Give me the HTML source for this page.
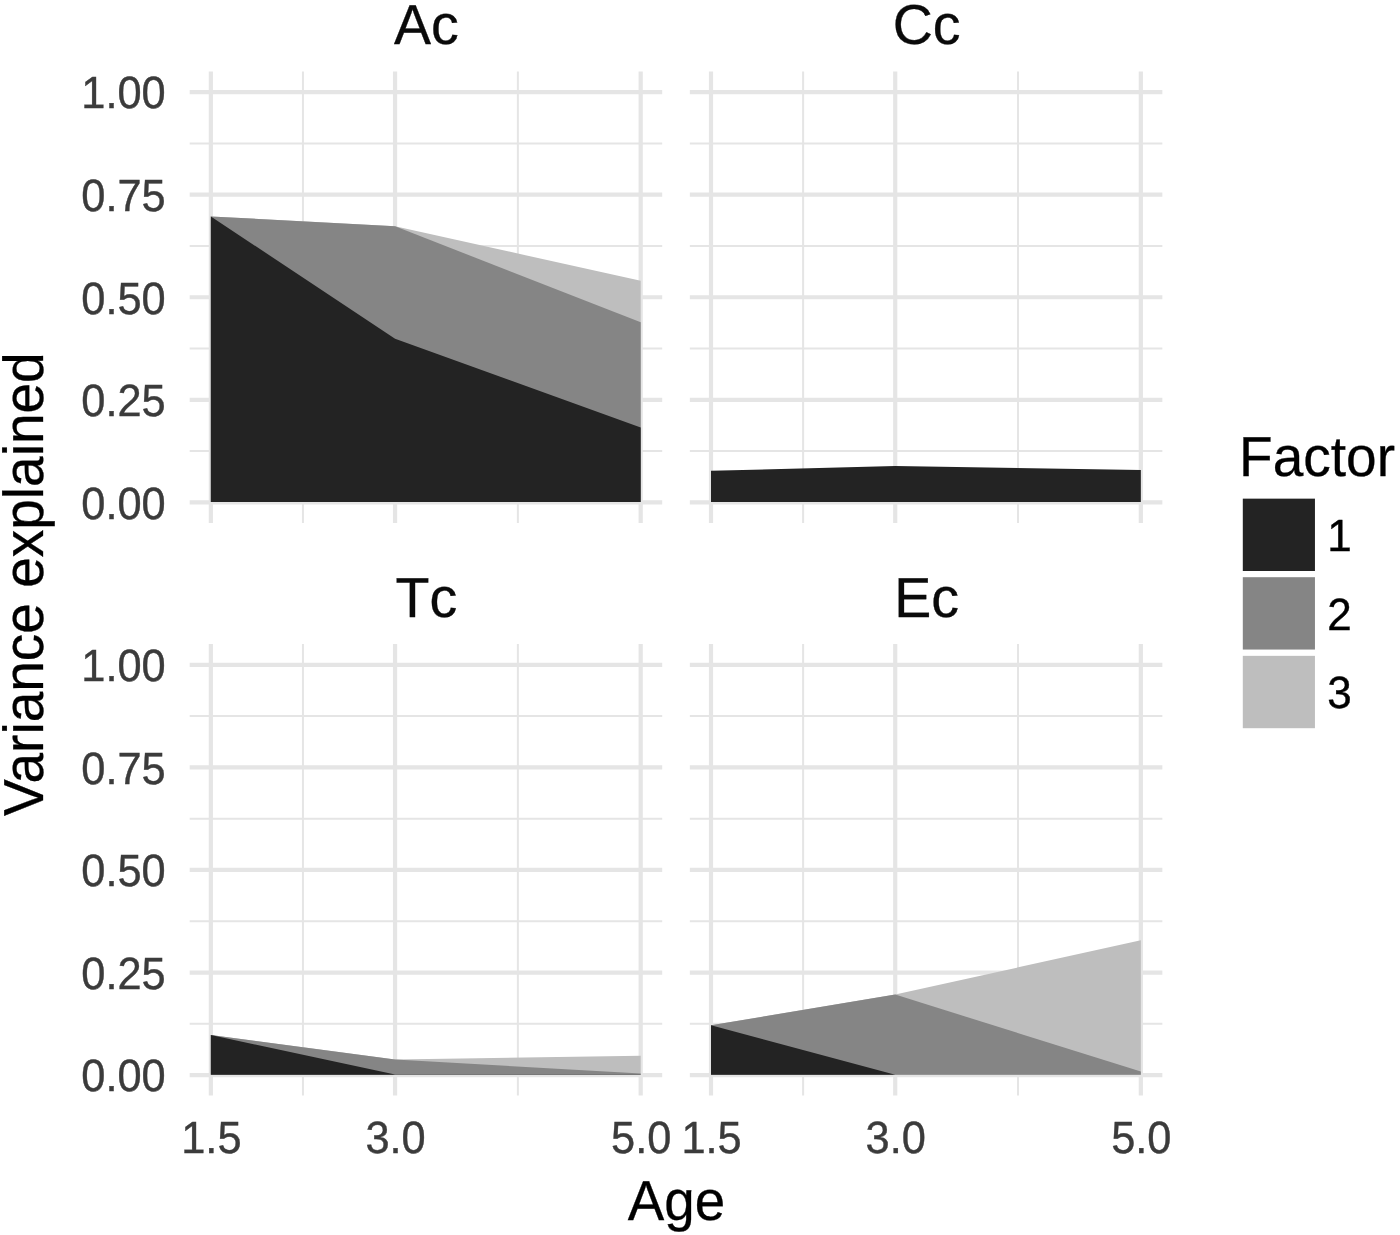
<!DOCTYPE html>
<html lang="en"><head><meta charset="utf-8"><title>Variance explained by factor and age</title>
<style>
html,body{margin:0;padding:0;background:#fff;}
body{width:1400px;height:1235px;overflow:hidden;font-family:"Liberation Sans",sans-serif;}
svg{display:block;}
text{font-kerning:none;text-rendering:geometricPrecision;}
</style></head><body>
<svg role="img" aria-label="Variance explained by factor across age for Ac, Cc, Tc and Ec" width="1400" height="1235" viewBox="0 0 1400 1235" font-family="'Liberation Sans', sans-serif">
<rect width="1400" height="1235" fill="#ffffff"/>
<g><line x1="189.70" x2="662.20" y1="451.11" y2="451.11" stroke="#e5e5e5" stroke-width="2"/><line x1="189.70" x2="662.20" y1="348.54" y2="348.54" stroke="#e5e5e5" stroke-width="2"/><line x1="189.70" x2="662.20" y1="245.96" y2="245.96" stroke="#e5e5e5" stroke-width="2"/><line x1="189.70" x2="662.20" y1="143.39" y2="143.39" stroke="#e5e5e5" stroke-width="2"/><line x1="302.96" x2="302.96" y1="71.40" y2="522.90" stroke="#e5e5e5" stroke-width="2"/><line x1="517.88" x2="517.88" y1="71.40" y2="522.90" stroke="#e5e5e5" stroke-width="2"/><line x1="189.70" x2="662.20" y1="502.40" y2="502.40" stroke="#e5e5e5" stroke-width="4.2"/><line x1="189.70" x2="662.20" y1="399.83" y2="399.83" stroke="#e5e5e5" stroke-width="4.2"/><line x1="189.70" x2="662.20" y1="297.25" y2="297.25" stroke="#e5e5e5" stroke-width="4.2"/><line x1="189.70" x2="662.20" y1="194.68" y2="194.68" stroke="#e5e5e5" stroke-width="4.2"/><line x1="189.70" x2="662.20" y1="92.10" y2="92.10" stroke="#e5e5e5" stroke-width="4.2"/><line x1="210.85" x2="210.85" y1="71.40" y2="522.90" stroke="#e5e5e5" stroke-width="4.2"/><line x1="395.06" x2="395.06" y1="71.40" y2="522.90" stroke="#e5e5e5" stroke-width="4.2"/><line x1="640.69" x2="640.69" y1="71.40" y2="522.90" stroke="#e5e5e5" stroke-width="4.2"/></g>
<polygon points="210.85,216.42 395.06,226.27 640.69,280.84 640.69,502.10 210.85,502.10" fill="#bebebe"/>
<polygon points="210.85,216.42 395.06,226.27 640.69,322.36 640.69,502.10 210.85,502.10" fill="#858585"/>
<polygon points="210.85,216.42 395.06,338.69 640.69,427.52 640.69,502.10 210.85,502.10" fill="#232323"/>
<text transform="translate(426.45,44.00) scale(1.01,1.025)" font-size="55" text-anchor="middle" fill="#0a0a0a" stroke="#0a0a0a" stroke-width="0.3">Ac</text>
<text transform="translate(165.70,519.00) scale(0.985,1.025)" font-size="44" text-anchor="end" fill="#3b3b3b" stroke="#3b3b3b" stroke-width="0.4">0.00</text>
<text transform="translate(165.70,416.00) scale(0.985,1.025)" font-size="44" text-anchor="end" fill="#3b3b3b" stroke="#3b3b3b" stroke-width="0.4">0.25</text>
<text transform="translate(165.70,314.00) scale(0.985,1.025)" font-size="44" text-anchor="end" fill="#3b3b3b" stroke="#3b3b3b" stroke-width="0.4">0.50</text>
<text transform="translate(165.70,211.00) scale(0.985,1.025)" font-size="44" text-anchor="end" fill="#3b3b3b" stroke="#3b3b3b" stroke-width="0.4">0.75</text>
<text transform="translate(165.70,108.00) scale(0.985,1.025)" font-size="44" text-anchor="end" fill="#3b3b3b" stroke="#3b3b3b" stroke-width="0.4">1.00</text>
<g><line x1="689.85" x2="1162.35" y1="451.11" y2="451.11" stroke="#e5e5e5" stroke-width="2"/><line x1="689.85" x2="1162.35" y1="348.54" y2="348.54" stroke="#e5e5e5" stroke-width="2"/><line x1="689.85" x2="1162.35" y1="245.96" y2="245.96" stroke="#e5e5e5" stroke-width="2"/><line x1="689.85" x2="1162.35" y1="143.39" y2="143.39" stroke="#e5e5e5" stroke-width="2"/><line x1="803.11" x2="803.11" y1="71.40" y2="522.90" stroke="#e5e5e5" stroke-width="2"/><line x1="1018.02" x2="1018.02" y1="71.40" y2="522.90" stroke="#e5e5e5" stroke-width="2"/><line x1="689.85" x2="1162.35" y1="502.40" y2="502.40" stroke="#e5e5e5" stroke-width="4.2"/><line x1="689.85" x2="1162.35" y1="399.83" y2="399.83" stroke="#e5e5e5" stroke-width="4.2"/><line x1="689.85" x2="1162.35" y1="297.25" y2="297.25" stroke="#e5e5e5" stroke-width="4.2"/><line x1="689.85" x2="1162.35" y1="194.68" y2="194.68" stroke="#e5e5e5" stroke-width="4.2"/><line x1="689.85" x2="1162.35" y1="92.10" y2="92.10" stroke="#e5e5e5" stroke-width="4.2"/><line x1="711.00" x2="711.00" y1="71.40" y2="522.90" stroke="#e5e5e5" stroke-width="4.2"/><line x1="895.22" x2="895.22" y1="71.40" y2="522.90" stroke="#e5e5e5" stroke-width="4.2"/><line x1="1140.84" x2="1140.84" y1="71.40" y2="522.90" stroke="#e5e5e5" stroke-width="4.2"/></g>
<polygon points="711.00,470.81 895.22,466.01 1140.84,469.99 1140.84,502.10 711.00,502.10" fill="#232323"/>
<text transform="translate(926.60,44.00) scale(1.01,1.025)" font-size="55" text-anchor="middle" fill="#0a0a0a" stroke="#0a0a0a" stroke-width="0.3">Cc</text>
<g><line x1="189.70" x2="662.20" y1="1023.81" y2="1023.81" stroke="#e5e5e5" stroke-width="2"/><line x1="189.70" x2="662.20" y1="921.24" y2="921.24" stroke="#e5e5e5" stroke-width="2"/><line x1="189.70" x2="662.20" y1="818.66" y2="818.66" stroke="#e5e5e5" stroke-width="2"/><line x1="189.70" x2="662.20" y1="716.09" y2="716.09" stroke="#e5e5e5" stroke-width="2"/><line x1="302.96" x2="302.96" y1="644.10" y2="1095.60" stroke="#e5e5e5" stroke-width="2"/><line x1="517.88" x2="517.88" y1="644.10" y2="1095.60" stroke="#e5e5e5" stroke-width="2"/><line x1="189.70" x2="662.20" y1="1075.10" y2="1075.10" stroke="#e5e5e5" stroke-width="4.2"/><line x1="189.70" x2="662.20" y1="972.53" y2="972.53" stroke="#e5e5e5" stroke-width="4.2"/><line x1="189.70" x2="662.20" y1="869.95" y2="869.95" stroke="#e5e5e5" stroke-width="4.2"/><line x1="189.70" x2="662.20" y1="767.38" y2="767.38" stroke="#e5e5e5" stroke-width="4.2"/><line x1="189.70" x2="662.20" y1="664.80" y2="664.80" stroke="#e5e5e5" stroke-width="4.2"/><line x1="210.85" x2="210.85" y1="644.10" y2="1095.60" stroke="#e5e5e5" stroke-width="4.2"/><line x1="395.06" x2="395.06" y1="644.10" y2="1095.60" stroke="#e5e5e5" stroke-width="4.2"/><line x1="640.69" x2="640.69" y1="644.10" y2="1095.60" stroke="#e5e5e5" stroke-width="4.2"/></g>
<polygon points="210.85,1035.01 395.06,1059.51 640.69,1055.82 640.69,1074.80 210.85,1074.80" fill="#bebebe"/>
<polygon points="210.85,1035.01 395.06,1059.51 640.69,1073.46 640.69,1074.80 210.85,1074.80" fill="#858585"/>
<polygon points="210.85,1035.01 395.06,1074.48 640.69,1074.48 640.69,1074.80 210.85,1074.80" fill="#232323"/>
<text transform="translate(426.45,617.00) scale(1.01,1.025)" font-size="55" text-anchor="middle" fill="#0a0a0a" stroke="#0a0a0a" stroke-width="0.3">Tc</text>
<text transform="translate(165.70,1091.00) scale(0.985,1.025)" font-size="44" text-anchor="end" fill="#3b3b3b" stroke="#3b3b3b" stroke-width="0.4">0.00</text>
<text transform="translate(165.70,989.00) scale(0.985,1.025)" font-size="44" text-anchor="end" fill="#3b3b3b" stroke="#3b3b3b" stroke-width="0.4">0.25</text>
<text transform="translate(165.70,886.00) scale(0.985,1.025)" font-size="44" text-anchor="end" fill="#3b3b3b" stroke="#3b3b3b" stroke-width="0.4">0.50</text>
<text transform="translate(165.70,784.00) scale(0.985,1.025)" font-size="44" text-anchor="end" fill="#3b3b3b" stroke="#3b3b3b" stroke-width="0.4">0.75</text>
<text transform="translate(165.70,681.00) scale(0.985,1.025)" font-size="44" text-anchor="end" fill="#3b3b3b" stroke="#3b3b3b" stroke-width="0.4">1.00</text>
<text transform="translate(211.35,1153.00) scale(0.985,1.025)" font-size="44" text-anchor="middle" fill="#3b3b3b" stroke="#3b3b3b" stroke-width="0.4">1.5</text>
<text transform="translate(395.56,1153.00) scale(0.985,1.025)" font-size="44" text-anchor="middle" fill="#3b3b3b" stroke="#3b3b3b" stroke-width="0.4">3.0</text>
<text transform="translate(641.19,1153.00) scale(0.985,1.025)" font-size="44" text-anchor="middle" fill="#3b3b3b" stroke="#3b3b3b" stroke-width="0.4">5.0</text>
<g><line x1="689.85" x2="1162.35" y1="1023.81" y2="1023.81" stroke="#e5e5e5" stroke-width="2"/><line x1="689.85" x2="1162.35" y1="921.24" y2="921.24" stroke="#e5e5e5" stroke-width="2"/><line x1="689.85" x2="1162.35" y1="818.66" y2="818.66" stroke="#e5e5e5" stroke-width="2"/><line x1="689.85" x2="1162.35" y1="716.09" y2="716.09" stroke="#e5e5e5" stroke-width="2"/><line x1="803.11" x2="803.11" y1="644.10" y2="1095.60" stroke="#e5e5e5" stroke-width="2"/><line x1="1018.02" x2="1018.02" y1="644.10" y2="1095.60" stroke="#e5e5e5" stroke-width="2"/><line x1="689.85" x2="1162.35" y1="1075.10" y2="1075.10" stroke="#e5e5e5" stroke-width="4.2"/><line x1="689.85" x2="1162.35" y1="972.53" y2="972.53" stroke="#e5e5e5" stroke-width="4.2"/><line x1="689.85" x2="1162.35" y1="869.95" y2="869.95" stroke="#e5e5e5" stroke-width="4.2"/><line x1="689.85" x2="1162.35" y1="767.38" y2="767.38" stroke="#e5e5e5" stroke-width="4.2"/><line x1="689.85" x2="1162.35" y1="664.80" y2="664.80" stroke="#e5e5e5" stroke-width="4.2"/><line x1="711.00" x2="711.00" y1="644.10" y2="1095.60" stroke="#e5e5e5" stroke-width="4.2"/><line x1="895.22" x2="895.22" y1="644.10" y2="1095.60" stroke="#e5e5e5" stroke-width="4.2"/><line x1="1140.84" x2="1140.84" y1="644.10" y2="1095.60" stroke="#e5e5e5" stroke-width="4.2"/></g>
<polygon points="711.00,1025.33 895.22,994.52 1140.84,940.23 1140.84,1074.80 711.00,1074.80" fill="#bebebe"/>
<polygon points="711.00,1025.33 895.22,994.52 1140.84,1071.61 1140.84,1074.80 711.00,1074.80" fill="#858585"/>
<polygon points="711.00,1025.33 895.22,1074.80 1140.84,1074.80 1140.84,1074.80 711.00,1074.80" fill="#232323"/>
<text transform="translate(926.60,617.00) scale(1.01,1.025)" font-size="55" text-anchor="middle" fill="#0a0a0a" stroke="#0a0a0a" stroke-width="0.3">Ec</text>
<text transform="translate(711.50,1153.00) scale(0.985,1.025)" font-size="44" text-anchor="middle" fill="#3b3b3b" stroke="#3b3b3b" stroke-width="0.4">1.5</text>
<text transform="translate(895.72,1153.00) scale(0.985,1.025)" font-size="44" text-anchor="middle" fill="#3b3b3b" stroke="#3b3b3b" stroke-width="0.4">3.0</text>
<text transform="translate(1141.34,1153.00) scale(0.985,1.025)" font-size="44" text-anchor="middle" fill="#3b3b3b" stroke="#3b3b3b" stroke-width="0.4">5.0</text>
<text transform="translate(676.40,1220.00) scale(0.995,1.025)" font-size="55" text-anchor="middle" fill="#000" stroke="#000" stroke-width="0.3">Age</text>
<text transform="translate(43.00,584.20) rotate(-90) scale(1.0,1.025)" font-size="55" text-anchor="middle" fill="#000" stroke="#000" stroke-width="0.3" style="font-kerning:normal">Variance explained</text>
<text transform="translate(1239.10,476.00) scale(1.0,1.025)" font-size="55" text-anchor="start" fill="#000" stroke="#000" stroke-width="0.3">Factor</text>
<rect x="1242.8" y="498.65" width="72.15" height="72.35" fill="#232323"/>
<text transform="translate(1327.30,551.00) scale(1.0,1.025)" font-size="44" text-anchor="start" fill="#000" stroke="#000" stroke-width="0.4">1</text>
<rect x="1242.8" y="577.20" width="72.15" height="72.35" fill="#858585"/>
<text transform="translate(1327.30,630.00) scale(1.0,1.025)" font-size="44" text-anchor="start" fill="#000" stroke="#000" stroke-width="0.4">2</text>
<rect x="1242.8" y="655.85" width="72.15" height="72.35" fill="#bebebe"/>
<text transform="translate(1327.30,708.00) scale(1.0,1.025)" font-size="44" text-anchor="start" fill="#000" stroke="#000" stroke-width="0.4">3</text>
</svg>
</body></html>
